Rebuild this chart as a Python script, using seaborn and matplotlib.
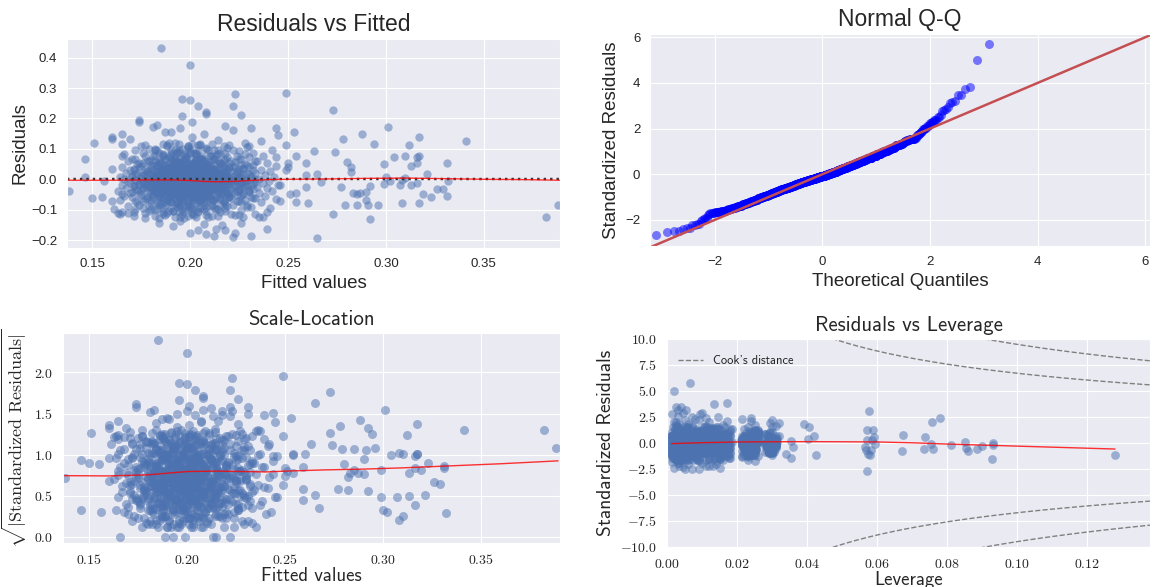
import math
import numpy as np
import pandas as pd
import matplotlib
matplotlib.use("Agg")
import matplotlib.pyplot as plt
from matplotlib.ticker import FuncFormatter, MultipleLocator
import seaborn as sns

# ---------------- data (fitted in 1/1000, residuals in 1/1000, leverage in 1/10000) ----------------
# sparse points right of the main cloud
sp_right_fit = [388,382,341,331,332,331,329,326,323,319, 321,317,317,316,316,317,316,313,313,312,
                310,310,308,307,308,304,301,299,299,302, 300,296,294,292,292,291,290,290,288,287,
                285,285,283,282,282,280,279,278,277,274, 273,273,267,265,265,263,260,259,259,259,
                254,253,254,254,249,249,250,250,251,249, 246,246,245,244,244,239,239]
sp_right_res = [-83,-125,127,53,-6,-54,-31,-32,-59,-48, 19,140,76,72,52,-77,-11,44,-18,113,
                76,5,-77,-18,-3,74,172,49,-17,-7, 8,-85,116,-23,-130,-83,-67,-42,148,-44,
                -48,-85,-44,39,24,57,-85,134,-25,91, 229,-114,-9,19,-194,94,-77,-25,55,15,
                75,157,-45,-75,113,285,52,41,-48,30, -72,-18,146,170,72,-164,-106]
sp_right_lev = [1280,230,250,120,755,860,90,855,670,583, 310,320,60,240,290,150,930,737,900,405,
                300,260,340,225,932,130,780,420,810,310, 852,580,230,280,250,300,220,760,758,885,
                568,235,735,592,572,675,425,390,566,588, 577,928,594,585,571,570,180,360,110,355,
                140,240,80,575,300,170,320,50,35,402, 250,70,295,215,100,120,355]
# sparse points left of the main cloud
sp_left_fit = [138,146,146,151,150,155,156,160,160,160, 160,161,164,165,165,165,165,169,174,174, 172,168,163]
sp_left_res = [-39,66,8,120,-61,-59,-7,140,131,35, -70,-97,-114,149,116,76,-48,133,196,187, -97,-112,-112]
sp_left_lev = [150,90,60,110,40,75,130,35,160,55, 95,45,85,25,140,30,115,70,30,145, 65,50,40]
# large positive residuals
sp_top_fit = [185,200,196,200,204,208,208,222,223,226,196,201,181,183,218,222,231,207,201,187,190,195,236,214]
sp_top_res = [431,376,263,261,240,220,214,242,280,212,209,190,173,179,176,162,168,148,140,154,157,168,125,130]
sp_top_lev = [65,20,25,40,30,100,45,55,135,95,15,70,80,110,240,300,50,120,60,20,170,90,310,25]
# large negative residuals
sp_bot_fit = [184,191,195,200,204,208,212,213,218,222,223,231,227,235,237,201,207,186,179,216,226]
sp_bot_res = [-145,-155,-136,-177,-166,-180,-186,-164,-166,-189,-177,-187,-125,-125,-125,-114,-147,-114,-103,-150,-143]
sp_bot_lev = [30,60,15,45,110,20,70,35,130,50,150,90,25,160,40,55,100,30,80,140,35]

# dense cloud, estimated band by band
fit_b1 = [171,165,176,168,173,164,177,170,166,174,169,175,163,172,167,178,171,165,174,169,176,168,173,166,177,170,164,175,172,167,178,171,169,174,165,173,176,168,170,177,166,172,175]
res_b1 = [-122,-106,-95,-87,-76,-69,-65,-57,-54,-47,-45,-39,-37,-31,-29,-24,-23,-18,-17,-12,-11,-7,-5,0,1,6,8,14,16,22,24,30,32,39,42,49,53,61,66,77,84,98,110]
lev_b1 = [45,120,230,15,80,300,60,140,25,95,250,35,170,70,10,110,290,55,20,130,215,85,40,160,65,310,30,100,240,50,150,75,12,260,90,180,28,115,280,42,125,220,62]

fit_b2 = [177,171,183,174,180,172,178,184,175,181,170,179,173,182,176,184,171,178,174,180,183,176,172,179,181,175,170,182,177,173,184,178,171,180,175,183,174,179,172,181,176,182,177]
res_b2 = [-128,-109,-97,-85,-79,-71,-63,-59,-52,-49,-43,-41,-35,-33,-27,-26,-21,-20,-15,-14,-9,-9,-3,-2,3,4,10,12,18,20,26,28,34,37,44,47,55,59,68,75,87,95,114]
lev_b2 = [90,20,160,245,55,130,35,300,75,15,110,225,65,180,40,285,100,25,140,50,255,85,12,170,60,315,30,120,210,45,150,80,18,235,95,175,22,105,290,38,135,250,70]

fit_b3 = [182,177,186,179,184,176,188,181,178,185,183,180,187,176,182,179,184,186,177,181,188,183,178,185,180,187,182,176,184,179,186,181,177,188,183,180,185,178,187,182,184,179,186]
res_b3 = [-120,-112,-94,-88,-75,-72,-66,-56,-55,-46,-44,-38,-36,-30,-29,-23,-22,-17,-16,-11,-10,-6,-4,-1,2,5,9,13,17,21,25,29,33,38,43,48,54,60,67,79,86,99,115]
lev_b3 = [30,150,60,220,105,15,280,75,125,45,240,90,20,165,55,305,110,35,70,230,140,10,85,175,50,260,25,120,40,295,95,65,215,18,155,80,130,48,250,100,28,185,58]

fit_b4 = [184,191,180,187,183,190,186,181,192,185,188,182,189,184,180,191,186,183,188,185,190,181,187,192,182,189,184,186,180,191,183,188,185,190,181,187,184,182,192,189,186,183,188]
res_b4 = [-126,-104,-99,-84,-78,-70,-62,-60,-51,-50,-42,-40,-34,-32,-28,-25,-22,-19,-16,-13,-10,-8,-4,-1,2,5,9,13,17,21,25,29,33,38,43,48,54,60,67,74,83,96,109]
lev_b4 = [110,40,215,65,15,145,290,85,30,170,55,230,20,125,75,310,45,100,250,12,160,60,35,175,90,285,25,135,50,215,80,115,18,300,70,150,38,245,95,22,180,58,130]

fit_b5 = [195,186,190,184,193,188,196,185,191,187,194,189,184,192,186,195,190,188,193,185,196,187,191,189,184,194,186,192,190,195,188,185,193,187,196,189,191,184,194,186,190,192,188]
res_b5 = [-124,-107,-96,-86,-77,-69,-64,-57,-53,-48,-45,-40,-35,-32,-27,-25,-21,-19,-15,-13,-9,-7,-3,0,3,6,10,14,18,22,26,30,34,39,44,49,55,61,68,77,85,97,113]
lev_b5 = [25,135,70,240,15,100,305,50,160,35,85,220,120,10,65,290,145,40,230,95,20,175,55,255,110,30,80,300,45,150,12,215,90,60,125,28,285,75,165,42,235,105,18]

fit_b6 = [192,188,198,194,187,196,190,199,193,189,195,191,197,188,194,187,199,192,196,190,193,198,189,195,191,187,197,194,190,199,188,193,196,192,189,198,195,191,187,197,193,190,194]
res_b6 = [-123,-110,-93,-89,-74,-71,-63,-58,-52,-47,-44,-39,-36,-31,-28,-24,-21,-18,-16,-12,-9,-8,-5,-1,3,5,8,13,16,21,24,29,32,37,42,47,53,59,66,75,86,98,116]
lev_b6 = [60,15,175,230,95,40,300,125,20,80,255,50,145,10,110,285,35,70,215,160,25,90,310,55,130,45,240,18,100,165,65,290,30,120,220,75,12,150,260,85,38,180,105]

fit_b7 = [197,191,201,194,190,199,195,202,192,198,196,193,200,190,197,194,201,191,199,195,202,193,198,196,190,200,192,197,194,201,191,199,196,193,202,198,195,190,200,192,197,194,199]
res_b7 = [-127,-105,-98,-85,-76,-70,-65,-59,-53,-49,-43,-41,-37,-33,-29,-25,-22,-20,-17,-14,-11,-8,-3,-2,1,4,9,12,17,20,25,28,33,38,43,48,55,60,68,76,84,96,111]
lev_b7 = [140,55,20,245,85,170,30,295,65,110,15,225,45,130,75,310,25,160,95,250,40,175,12,280,60,120,35,215,80,150,22,300,50,105,235,70,18,165,90,260,42,125,58]

fit_b8 = [199,194,204,197,193,201,205,196,202,195,200,198,203,193,199,196,204,194,201,197,205,195,202,199,193,203,198,200,196,204,194,201,197,205,195,202,199,193,203,198,200,196,204]
res_b8 = [-121,-108,-95,-87,-78,-69,-64,-56,-54,-46,-45,-38,-35,-32,-27,-26,-21,-18,-15,-13,-10,-7,-4,0,2,6,10,13,18,21,26,29,34,39,44,49,54,61,67,78,85,99,114]
lev_b8 = [35,178,75,15,230,120,50,285,95,160,20,250,65,140,40,305,85,10,175,55,215,110,30,290,70,135,45,240,100,25,155,60,315,80,18,220,125,48,165,90,260,32,145]

fit_b9 = [203,197,207,200,196,205,201,208,198,204,202,199,206,196,203,200,208,197,205,201,207,199,204,202,196,206,198,203,200,208,197,205,201,199,207,204,202,196,206,198,203,200,205]
res_b9 = [-125,-103,-97,-88,-75,-72,-62,-58,-51,-48,-44,-40,-36,-31,-28,-24,-23,-19,-16,-12,-10,-6,-5,-1,3,4,9,14,16,22,24,30,32,38,42,48,53,59,66,74,83,97,112]
lev_b9 = [75,25,150,235,50,110,300,15,130,60,255,90,35,170,20,285,105,45,220,140,12,80,310,55,125,40,245,65,165,28,100,290,48,145,18,215,85,115,38,260,70,155,22]

fit_b10 = [208,201,205,211,199,204,209,202,206,200,210,203,207,199,205,211,202,208,204,200,206,209,201,203,210,207,199,205,202,208,211,204,200,206,203,209,201,207,205,210,202,204,199]
res_b10 = [-119,-111,-94,-86,-77,-70,-66,-57,-55,-47,-43,-39,-37,-30,-29,-23,-22,-18,-17,-11,-11,-7,-4,-2,2,5,8,13,17,20,25,28,33,37,43,47,54,60,67,75,87,96,110]
lev_b10 = [120,45,260,15,85,175,30,295,60,140,22,230,95,50,160,10,305,75,110,35,245,65,180,18,285,100,40,215,130,55,25,310,90,150,70,240,12,115,48,165,80,250,28]

fit_b11 = [209,204,213,207,203,211,215,206,210,205,214,208,212,203,209,206,215,204,211,207,213,205,210,208,203,214,206,212,209,215,204,211,207,213,205,210,208,203,212,206,214,209,211]
res_b11 = [-124,-106,-99,-84,-79,-71,-63,-60,-52,-50,-42,-41,-34,-33,-27,-25,-20,-20,-15,-14,-9,-8,-3,-1,3,5,10,12,18,21,26,29,34,38,44,48,55,61,68,77,84,98,115]
lev_b11 = [55,180,20,240,95,130,40,290,70,15,155,225,85,30,110,300,50,165,12,255,75,140,35,215,100,60,285,25,125,45,235,90,18,170,65,310,105,38,145,80,250,28,115]

fit_b12 = [214,208,218,211,207,216,212,220,209,215,219,210,213,207,217,211,214,208,220,212,216,209,218,213,207,215,210,219,212,217,208,214,211,220,209,216,213,207,218,210,215,212,217]
res_b12 = [-122,-104,-96,-87,-76,-69,-65,-58,-53,-48,-44,-40,-35,-32,-28,-26,-21,-19,-16,-13,-10,-7,-4,0,1,6,9,13,17,22,25,30,33,38,42,49,53,60,66,76,85,97,109]
lev_b12 = [90,30,215,60,160,15,300,120,45,245,75,175,20,135,55,285,100,35,170,230,12,80,310,50,145,25,260,110,65,175,40,290,95,18,220,130,70,155,22,240,85,48,125]

fit_b13 = [223,215,212,219,226,217,221,213,224,216,220,214,225,218,212,222,216,219,213,226,215,221,217,224,212,220,218,223,214,225,216,219,213,222,217,226,215,221,212,224,218,214,220]
res_b13 = [-118,-109,-93,-88,-74,-72,-62,-59,-51,-49,-45,-39,-36,-31,-29,-24,-22,-17,-15,-12,-9,-6,-5,-1,2,4,10,14,16,21,24,29,32,39,43,48,54,61,67,78,86,95,113]
lev_b13 = [25,145,70,250,40,105,290,15,175,60,220,130,35,85,305,50,160,20,235,95,120,45,280,65,10,155,215,80,30,170,110,260,55,140,18,300,75,38,125,245,90,22,165]

fit_b14 = [225,218,231,222,217,228,233,220,226,219,230,224,221,232,217,227,223,229,218,225,233,220,228,222,231,219,226,217,230,224,221,232,227,218,223,229,220,233,225,219,228,222,230]
res_b14 = [-116,-104,-92,-83,-76,-68,-63,-57,-52,-47,-43,-39,-35,-31,-27,-25,-21,-18,-15,-12,-9,-7,-3,0,3,6,9,13,17,21,26,29,34,38,43,47,53,60,66,74,84,95,108]
lev_b14 = [135,50,20,225,85,300,165,35,110,255,60,15,180,95,285,45,125,240,70,30,150,310,55,100,18,215,75,160,40,290,120,25,250,65,140,12,230,90,48,175,105,260,38]

fit_b15 = [233,226,241,229,236,224,244,231,238,227,235,242,230,225,239,234,228,245,232,237,226,240,229,235,224,243,231,238,227,233,241,236,225,230,244,228,239,234,226,237,232,242,229]
res_b15 = [-114,-102,-93,-84,-75,-70,-64,-58,-54,-48,-44,-40,-36,-32,-28,-24,-21,-18,-14,-11,-8,-6,-2,1,4,7,11,14,18,22,26,30,34,39,44,49,55,61,68,76,85,96,107]
lev_b15 = [65,230,20,145,40,290,105,15,250,80,170,30,310,55,125,215,90,45,160,285,12,120,70,240,35,180,100,25,300,60,140,50,260,85,18,220,115,38,155,295,75,130,28]

fit_b16 = [187,182,193,185,190,180,195,184,189,183,192,186,181,194,188,185,191,183,195,187,180,190,184,193,186,182,189,194,181,188,192,185,183,191,187,195,184,180,190,186,193,182,189]
res_b16 = [-117,-101,-91,-82,-74,-67,-61,-56,-50,-46,-42,-38,-34,-30,-26,-23,-20,-17,-14,-11,-8,-5,-2,0,3,7,11,15,19,23,27,31,35,40,45,50,56,62,70,80,90,101,118]
lev_b16 = [40,95,15,160,70,230,25,120,55,290,10,140,80,35,250,105,20,175,60,130,45,215,85,18,150,65,300,30,110,50,240,90,22,165,75,12,125,280,38,100,58,145,28]

fit_b17 = [196,189,201,193,188,199,192,203,195,190,198,194,202,188,197,191,200,195,189,203,193,198,190,196,201,188,194,199,192,197,202,189,195,200,191,196,193,203,198,190,194,199,192]
res_b17 = [-115,-103,-90,-81,-73,-68,-62,-55,-51,-45,-41,-37,-33,-29,-26,-22,-19,-16,-13,-10,-7,-4,-1,1,4,8,12,15,19,24,28,32,36,41,46,51,57,63,71,81,91,103,121]
lev_b17 = [120,30,65,245,15,180,90,40,305,55,135,20,75,225,110,45,160,10,285,70,35,140,95,255,25,60,170,15,310,80,50,125,220,35,100,18,150,65,260,42,115,85,28]

fit_b18 = [202,196,208,199,205,195,210,201,197,206,203,198,209,200,204,196,207,202,195,210,199,205,197,203,208,200,196,206,201,209,198,204,195,207,202,199,210,197,205,203,200,208,201]
res_b18 = [-119,-100,-92,-83,-73,-66,-61,-55,-50,-46,-42,-38,-34,-30,-27,-23,-20,-17,-14,-11,-8,-5,-2,1,4,7,11,15,20,23,27,31,36,40,45,51,56,63,70,79,89,102,117]
lev_b18 = [22,155,80,35,290,110,60,215,15,130,45,175,95,250,28,70,140,12,300,50,100,235,40,165,85,18,125,260,55,30,145,75,285,20,115,65,180,38,225,90,48,135,105]

fit_b19 = [211,204,200,215,208,202,213,206,209,201,216,205,210,203,212,207,200,214,204,209,211,202,206,215,201,208,213,203,210,205,200,212,207,216,204,209,202,214,206,211,203,208,205]
res_b19 = [-121,-104,-94,-84,-76,-69,-63,-57,-52,-47,-43,-39,-35,-31,-27,-24,-21,-18,-15,-12,-9,-6,-3,0,2,6,10,14,18,22,26,30,35,39,44,49,55,61,68,78,88,100,116]
lev_b19 = [85,25,170,50,240,12,130,65,295,35,105,220,18,150,75,45,310,95,28,160,60,255,40,115,20,185,70,280,30,140,55,230,10,125,80,42,165,100,265,15,90,145,58]

fit_b20 = [221,214,229,218,225,212,232,220,227,216,223,230,215,219,226,213,231,222,217,228,224,211,219,233,216,226,221,214,229,218,224,212,227,220,232,215,223,217,230,213,225,219,228]
res_b20 = [-113,-99,-90,-80,-72,-67,-60,-54,-49,-45,-41,-37,-33,-29,-25,-22,-19,-16,-13,-10,-7,-4,-1,2,5,8,12,16,20,24,28,33,37,42,47,52,58,64,72,81,92,104,119]
lev_b20 = [150,45,20,230,90,120,35,300,65,15,175,55,250,110,25,140,80,285,40,12,160,70,215,100,30,130,60,310,18,95,240,50,145,75,22,170,115,260,38,85,28,125,48]

# residual standard error and number of model parameters
sigma = 0.0755
n_params = 10
cook_levels = [0.5, 1.0]

# lowess curves
rvf_lowess_x = [0.137, 0.16, 0.18, 0.19, 0.20, 0.207, 0.214, 0.222, 0.23, 0.24, 0.25, 0.27, 0.29, 0.31, 0.33, 0.35, 0.37, 0.389]
rvf_lowess_y = [-0.003, -0.003, -0.002, -0.002, -0.004, -0.007, -0.008, -0.007, -0.004, -0.001, 0.0, 0.001, 0.003, 0.004, 0.002, 0.0, -0.001, -0.003]
sl_lowess_x = [0.137, 0.16, 0.18, 0.19, 0.20, 0.215, 0.23, 0.24, 0.25, 0.27, 0.29, 0.31, 0.33, 0.36, 0.389]
sl_lowess_y = [0.745, 0.742, 0.755, 0.775, 0.795, 0.80, 0.795, 0.79, 0.80, 0.815, 0.825, 0.84, 0.86, 0.89, 0.925]
lev_lowess_x = [0.0013, 0.01, 0.02, 0.03, 0.04, 0.05, 0.06, 0.07, 0.08, 0.09, 0.10, 0.11, 0.128]
lev_lowess_y = [-0.06, 0.03, 0.1, 0.12, 0.13, 0.12, 0.1, 0.02, -0.1, -0.2, -0.3, -0.4, -0.58]

# ---------------- assemble ----------------
fit_lists = [sp_right_fit, sp_left_fit, sp_top_fit, sp_bot_fit, fit_b1, fit_b2, fit_b3, fit_b4, fit_b5,
             fit_b6, fit_b7, fit_b8, fit_b9, fit_b10, fit_b11, fit_b12, fit_b13, fit_b14, fit_b15,
             fit_b16, fit_b17, fit_b18, fit_b19, fit_b20]
res_lists = [sp_right_res, sp_left_res, sp_top_res, sp_bot_res, res_b1, res_b2, res_b3, res_b4, res_b5,
             res_b6, res_b7, res_b8, res_b9, res_b10, res_b11, res_b12, res_b13, res_b14, res_b15,
             res_b16, res_b17, res_b18, res_b19, res_b20]
lev_lists = [sp_right_lev, sp_left_lev, sp_top_lev, sp_bot_lev, lev_b1, lev_b2, lev_b3, lev_b4, lev_b5,
             lev_b6, lev_b7, lev_b8, lev_b9, lev_b10, lev_b11, lev_b12, lev_b13, lev_b14, lev_b15,
             lev_b16, lev_b17, lev_b18, lev_b19, lev_b20]
for a, b, c in zip(fit_lists, res_lists, lev_lists):
    assert len(a) == len(b) == len(c), (len(a), len(b), len(c))

fitted = np.concatenate([np.asarray(v, float) for v in fit_lists]) / 1000.0
resid = np.concatenate([np.asarray(v, float) for v in res_lists]) / 1000.0
leverage = np.concatenate([np.asarray(v, float) for v in lev_lists]) / 10000.0
std_resid = resid / (sigma * np.sqrt(1.0 - leverage))
df = pd.DataFrame({"fitted": fitted, "resid": resid, "leverage": leverage,
                   "std_resid": std_resid, "sqrt_abs": np.sqrt(np.abs(std_resid))})


def norm_ppf(p):
    erf = np.vectorize(math.erf)
    lo = np.full_like(p, -10.0)
    hi = np.full_like(p, 10.0)
    for _ in range(60):
        mid = 0.5 * (lo + hi)
        c = 0.5 * (1.0 + erf(mid / math.sqrt(2.0)))
        lo = np.where(c < p, mid, lo)
        hi = np.where(c < p, hi, mid)
    return 0.5 * (lo + hi)


n = len(df)
qq = pd.DataFrame({"theo": norm_ppf(np.arange(1, n + 1) / (n + 1.0)),
                   "sample": np.sort(df["std_resid"].values)})

# ---------------- style ----------------
sns.set_style("darkgrid")
plt.rcParams["font.family"] = ["Liberation Sans", "DejaVu Sans"]
plt.rcParams["mathtext.fontset"] = "cm"
TXT = ".15"
BLUE = "#4C72B0"

fig = plt.figure(figsize=(11.54, 5.87), dpi=100)
W, H = 1154.0, 587.0


def box(l, t, r, b):
    return [l / W, 1 - b / H, (r - l) / W, (b - t) / H]


ax1 = fig.add_axes(box(67, 39, 560, 248))
ax2 = fig.add_axes(box(650, 34, 1150, 246))
ax3 = fig.add_axes(box(63, 333, 560, 543))
ax4 = fig.add_axes(box(667, 339, 1150, 547))

# --- Residuals vs Fitted
sns.scatterplot(data=df, x="fitted", y="resid", ax=ax1, color=BLUE, alpha=0.5, s=36, linewidth=0)
ax1.axhline(0, ls=":", c=".2", lw=1.75)
ax1.plot(rvf_lowess_x, rvf_lowess_y, color="red", lw=1, alpha=0.8)
ax1.set_xlim(0.137, 0.389)
ax1.set_ylim(-0.226, 0.4615)
ax1.xaxis.set_major_locator(MultipleLocator(0.05))
ax1.yaxis.set_major_locator(MultipleLocator(0.1))
ax1.set_title("Residuals vs Fitted", fontsize=16.5, color=TXT)
ax1.set_xlabel("Fitted values", fontsize=13.5, color=TXT)
ax1.set_ylabel("Residuals", fontsize=13.5, color=TXT, labelpad=1.5)
ax1.tick_params(labelsize=9.5, colors=TXT)

# --- Normal Q-Q
sns.scatterplot(data=qq, x="theo", y="sample", ax=ax2, color="blue", alpha=0.5, s=42, linewidth=0)
ax2.plot([-4, 7], [-4, 7], color="#C44E52", lw=1.8)
ax2.set_xlim(-3.2, 6.09)
ax2.set_ylim(-3.14, 6.145)
ax2.xaxis.set_major_locator(MultipleLocator(2))
ax2.yaxis.set_major_locator(MultipleLocator(2))
ax2.set_title("Normal Q-Q", fontsize=16.5, color=TXT)
ax2.set_xlabel("Theoretical Quantiles", fontsize=13.5, color=TXT)
ax2.set_ylabel("Standardized Residuals", fontsize=13.5, color=TXT)
ax2.tick_params(labelsize=9.5, colors=TXT)

# --- Scale-Location
sns.scatterplot(data=df, x="fitted", y="sqrt_abs", ax=ax3, color=BLUE, alpha=0.5, s=42, linewidth=0)
ax3.plot(sl_lowess_x, sl_lowess_y, color="red", lw=1, alpha=0.8)
ax3.set_xlim(0.1368, 0.39)
ax3.set_ylim(-0.074, 2.48)
ax3.xaxis.set_major_locator(MultipleLocator(0.05))
ax3.yaxis.set_major_locator(MultipleLocator(0.5))
ax3.xaxis.set_major_formatter(FuncFormatter(lambda v, p: f"${v:.2f}$"))
ax3.yaxis.set_major_formatter(FuncFormatter(lambda v, p: f"${v:.1f}$"))
ax3.set_title("Scale-Location", fontsize=15, color=TXT, fontfamily="cmss10")
ax3.set_xlabel("Fitted values", fontsize=13.5, color=TXT, fontfamily="cmss10", labelpad=0)
ax3.set_ylabel(r"$\sqrt{|\mathrm{Standardized\ Residuals}|}$", fontsize=13, color=TXT)
ax3.tick_params(labelsize=10, colors=TXT)

# --- Residuals vs Leverage
sns.scatterplot(data=df, x="leverage", y="std_resid", ax=ax4, color=BLUE, alpha=0.5, s=40, linewidth=0)
ax4.plot(lev_lowess_x, lev_lowess_y, color="red", lw=1, alpha=0.8)
cx = np.linspace(0.001, 0.138, 50)
for i, lvl in enumerate(cook_levels):
    cy = np.sqrt(lvl * n_params * (1 - cx) / cx)
    ax4.plot(cx, cy, ls="--", color="gray", lw=1, label="Cook's distance" if i == 0 else None)
    ax4.plot(cx, -cy, ls="--", color="gray", lw=1)
ax4.set_xlim(0, 0.138)
ax4.set_ylim(-10, 10)
ax4.xaxis.set_major_locator(MultipleLocator(0.02))
ax4.yaxis.set_major_locator(MultipleLocator(2.5))
ax4.xaxis.set_major_formatter(FuncFormatter(lambda v, p: f"${v:.2f}$"))
ax4.yaxis.set_major_formatter(FuncFormatter(lambda v, p: f"${v:.1f}$"))
ax4.set_title("Residuals vs Leverage", fontsize=15, color=TXT, fontfamily="cmss10")
ax4.set_xlabel("Leverage", fontsize=13.5, color=TXT, fontfamily="cmss10", labelpad=0)
ax4.set_ylabel("Standardized Residuals", fontsize=14, color=TXT, fontfamily="cmss10")
ax4.tick_params(labelsize=10, colors=TXT)
leg = ax4.legend(loc="upper left", bbox_to_anchor=(0.0, 0.975), frameon=False,
                 prop={"family": "cmss10", "size": 9})
for t in leg.get_texts():
    t.set_color(TXT)

fig.savefig("out.png", dpi=100)
